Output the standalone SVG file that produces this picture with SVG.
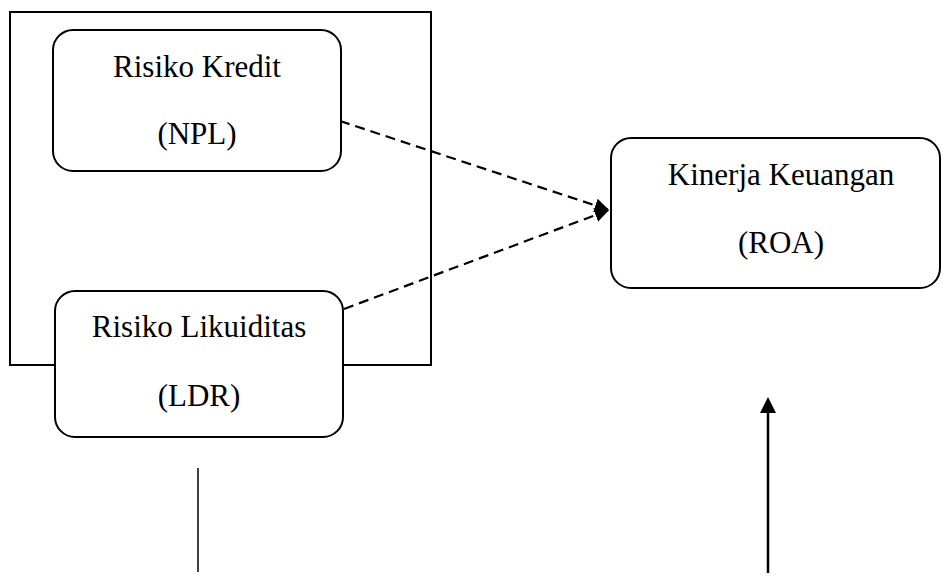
<svg xmlns="http://www.w3.org/2000/svg" width="943" height="577" viewBox="0 0 943 577">
  <style>
    .box { fill: #ffffff; stroke: #000000; stroke-width: 2; }
    .frame { fill: none; stroke: #000000; stroke-width: 2; }
    .lbl { font-family: "Liberation Serif", "Times New Roman", serif; font-size: 31px; fill: #000000; text-anchor: middle; }
    .dash { fill: none; stroke: #000000; stroke-width: 2.2; stroke-dasharray: 10 6; }
    .solid { fill: none; stroke: #000000; }
  </style>
  <defs>
    <marker id="arrowSmall" viewBox="0 0 10 10" refX="10" refY="5" markerWidth="6.5" markerHeight="6.5" markerUnits="strokeWidth" orient="auto">
      <path d="M0,0 L10,5 L0,10 Z" fill="#000000"/>
    </marker>
  </defs>
  <rect width="943" height="577" fill="#ffffff"/>

  <g id="frame">
    <rect class="frame" x="10" y="12" width="421" height="353"/>
  </g>

  <g id="connectors">
    <line class="dash" x1="340" y1="121" x2="609" y2="210" marker-end="url(#arrowSmall)"/>
    <line class="dash" x1="344" y1="309" x2="609" y2="210" marker-end="url(#arrowSmall)"/>
    <line class="solid" stroke-width="1.5" x1="198" y1="468" x2="198" y2="572"/>
    <line class="solid" stroke-width="2.5" x1="768" y1="573" x2="768" y2="410"/>
    <polygon points="768,397 760,413 776,413" fill="#000000"/>
  </g>

  <g id="node-kredit">
    <rect class="box" x="53" y="30" width="288" height="141" rx="20" ry="20"/>
    <text class="lbl" x="197" y="77">Risiko Kredit</text>
    <text class="lbl" x="197" y="144">(NPL)</text>
  </g>

  <g id="node-likuiditas">
    <rect class="box" x="55" y="291" width="288" height="146" rx="20" ry="20"/>
    <text class="lbl" x="199" y="337">Risiko Likuiditas</text>
    <text class="lbl" x="199" y="406">(LDR)</text>
  </g>

  <g id="node-kinerja">
    <rect class="box" x="611" y="138" width="329" height="150" rx="20" ry="20"/>
    <text class="lbl" x="781" y="185">Kinerja Keuangan</text>
    <text class="lbl" x="781" y="253">(ROA)</text>
  </g>
</svg>
